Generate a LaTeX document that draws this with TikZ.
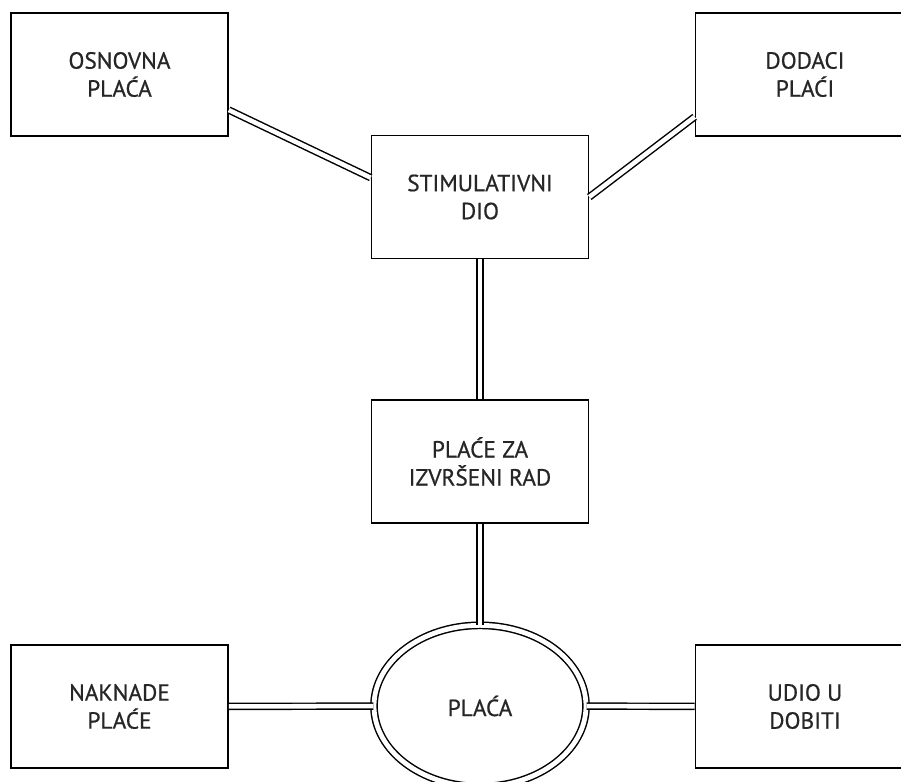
\documentclass[tikz,border=0pt]{standalone}
\usepackage{fontspec}
\setmainfont{PT Sans}
\newfontfamily\labelfont{PT Sans}[FakeBold=0.7]
\usepackage{tikz}
\usetikzlibrary{shapes,positioning,calc}

\begin{document}
\begin{tikzpicture}[x=0.75pt, y=-0.75pt,
    box/.style={draw, rectangle, line width=1.2pt, minimum width=162.75pt, minimum height=92.25pt, align=center, font=\labelfont\fontsize{17.5}{21}\selectfont, text=black!85, inner sep=0pt},
    link/.style={draw, line width=1.1pt, double, double distance=3.4pt}]
    \useasboundingbox (0,0) rectangle (901,782);

    \node[box] (osnovna) at (119.5,74.5) {OSNOVNA\\PLAĆA};
    \node[box, minimum width=164.25pt] (dodaci) at (805,74.5) {DODACI\\PLAĆI};
    \node[box] (stim) at (480,197) {STIMULATIVNI\\DIO};
    \node[box] (rad) at (480,461.5) {PLAĆE ZA\\IZVRŠENI RAD};
    \node[draw, ellipse, line width=1.1pt, double, double distance=3.6pt, minimum width=159pt, minimum height=121pt, font=\labelfont\fontsize{17.5}{21}\selectfont, text=black!85] (placa) at (480,706) {PLAĆA};
    \node[box] (naknade) at (119.5,706.5) {NAKNADE\\PLAĆE};
    \node[box, minimum width=164.25pt] (udio) at (805,706.5) {UDIO U\\DOBITI};

    % Veze
    \draw[link] (osnovna.-18) -- (stim.170);
    \draw[link] (dodaci.-159) -- (stim.east);
    \draw[link] (stim) -- (rad);
    \draw[link] (rad) -- (placa);
    \draw[link] (naknade) -- (placa);
    \draw[link] (placa) -- (udio);
\end{tikzpicture}
\end{document}
